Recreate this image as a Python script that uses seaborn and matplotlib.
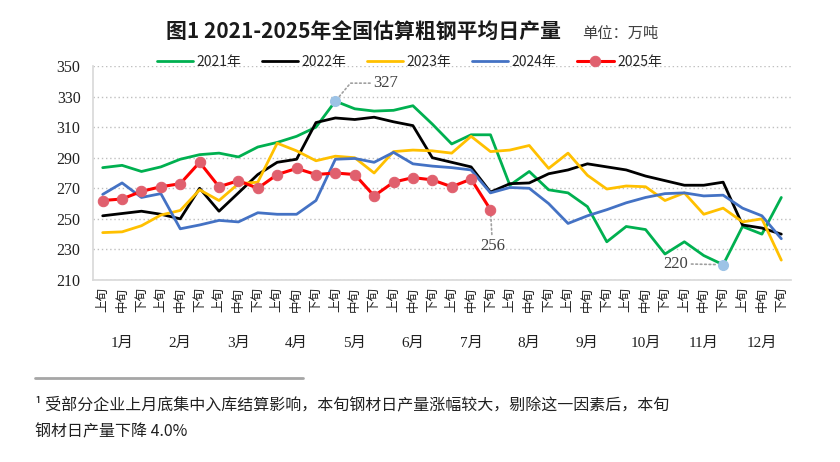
import numpy as np
import matplotlib
matplotlib.use("Agg")
import matplotlib.pyplot as plt
import matplotlib.transforms as mtransforms
from matplotlib.lines import Line2D
import seaborn as sns

# categories
months = ["1月", "2月", "3月", "4月", "5月", "6月", "7月", "8月", "9月", "10月", "11月", "12月"]
xun = ["上旬", "中旬", "下旬"]
periods = [x for m in months for x in xun]

# 万吨/日
y2021 = [283.5, 285, 281, 284, 289, 292, 293, 290.5, 297, 300, 304, 310,
         327, 322, 320.5, 321, 324, 312, 299, 305, 305, 272, 281, 269,
         267, 258, 235, 245, 243, 227, 235, 226, 220, 245, 240, 264]
y2022 = [252, 253.5, 255, 253, 250, 270, 255, 267, 279, 287, 289, 313,
         316, 315, 316.5, 313.5, 311, 290, 287, 284, 267.5, 273, 273.5, 279.5,
         282, 286, 284, 282, 278, 275, 272, 272, 274, 246, 244, 240]
y2023 = [241, 241.5, 245.5, 252.5, 255.5, 269, 262, 273, 274, 299.5, 294.5, 288,
         291, 290, 280, 294, 295, 294.5, 293, 304, 294, 295, 298, 283,
         293, 278.5, 269.5, 271.5, 271, 262, 267, 253, 257, 248, 250, 223]
y2024 = [266, 273.5, 264, 266.5, 243.5, 246, 249, 248, 254, 253, 253, 262,
         289, 289.5, 287, 293.5, 286, 284.5, 283.5, 282, 267, 270.5, 270, 260,
         247, 252, 256, 260.5, 264, 266.5, 267, 265, 265.5, 257, 252, 237]
y2025 = [262, 263, 268, 271, 273, 287, 271, 275, 270, 279, 283, 279,
         280, 279, 265, 274, 277, 275.5, 271, 276, 256]

sns.set_theme(style="white")
plt.rcParams["font.family"] = ["Noto Sans CJK SC", "DejaVu Sans"]
serif = ["Liberation Serif", "Noto Sans CJK SC"]

fig = plt.figure(figsize=(8.4, 4.62), dpi=100)
ax = fig.add_axes([93 / 840, 182 / 462, 698 / 840, 214 / 462])

idx = np.arange(len(periods))
series = [("2021年", y2021, "#00B050"),
          ("2022年", y2022, "#000000"),
          ("2023年", y2023, "#FFC000"),
          ("2024年", y2024, "#4472C4")]
for name, vals, col in series:
    sns.lineplot(x=idx[:len(vals)], y=vals, ax=ax, color=col, linewidth=2,
                 label=name)
sns.lineplot(x=idx[:len(y2025)], y=y2025, ax=ax, color="#FF0000", linewidth=2.2,
             marker="o", markersize=7.5, markerfacecolor="#E0606E",
             markeredgecolor="#E0606E", label="2025年", zorder=4)

# highlighted points
ax.plot(12, y2021[12], "o", color="#9DC3E6", ms=7, zorder=5)
ax.plot(32, y2021[32], "o", color="#9DC3E6", ms=7, zorder=5)

lead = dict(arrowstyle="-", linestyle=":", color="#A0A0A0", lw=1.2, shrinkA=0, shrinkB=4)
ax.annotate(f"{y2021[12]:.0f}", xy=(12, y2021[12]), xytext=(38, 18),
            textcoords="offset pixels", ha="left", va="center", fontsize=12,
            family=serif, color="#404040",
            arrowprops=dict(lead, connectionstyle="angle,angleA=0,angleB=50,rad=0"))
ax.annotate(f"{y2025[-1]:.0f}", xy=(20, y2025[-1]), xytext=(2, -36),
            textcoords="offset pixels", ha="center", va="center", fontsize=12,
            family=serif, color="#404040", arrowprops=lead)
ax.annotate(f"{y2021[32]:.0f}", xy=(32, y2021[32]), xytext=(-35, 1),
            textcoords="offset pixels", ha="right", va="center", fontsize=12,
            family=serif, color="#404040", arrowprops=lead)

# axes styling
ax.set_xlim(-0.5, len(periods) - 0.5)
ax.set_ylim(210, 350)
ax.set_yticks(range(210, 351, 20))
ax.set_xticks(idx)
ax.set_xticklabels(periods, rotation=90, fontsize=9)
ax.set_xticks(np.arange(-0.5, len(periods), 3), minor=True)
ax.tick_params(axis="x", which="major", direction="in", length=3, color="#D9D9D9",
               pad=5, labelcolor="#202020")
ax.tick_params(axis="x", which="minor", direction="out", length=54, color="#D9D9D9",
               width=1)
ax.tick_params(axis="y", length=0, pad=9, labelsize=11.5, labelcolor="#202020")
for lab in ax.get_yticklabels():
    lab.set_family(serif)
ax.yaxis.grid(True, linestyle=(0, (1, 2)), color="#BFBFBF", lw=1)
ax.xaxis.grid(False)
for s in ["top", "right"]:
    ax.spines[s].set_visible(False)
for s in ["left", "bottom"]:
    ax.spines[s].set_color("#D9D9D9")
ax.set_xlabel("")
ax.set_ylabel("")

# month labels under the xun labels
trans = mtransforms.blended_transform_factory(ax.transData, ax.transAxes)
for k, m in enumerate(months):
    ax.text(3 * k + 1, -0.295, m, transform=trans, ha="center", va="center",
            fontsize=11, family=serif, color="#202020")

ax.legend(loc="center", bbox_to_anchor=(0.453, 1.02), ncol=5, frameon=False,
          fontsize=10, handlelength=2.6, columnspacing=1.5, handletextpad=0.25,
          borderpad=0)

# title and footnote
fig.text(363 / 840, 1 - 32 / 462, "图1 2021-2025年全国估算粗钢平均日产量",
         ha="center", va="center", fontsize=15, fontweight="bold", color="#1a1a1a")
fig.text(582 / 840, 1 - 33 / 462, "单位：万吨", ha="left", va="center",
         fontsize=11, color="#404040")
fig.add_artist(Line2D([35 / 840, 303 / 840], [1 - 378 / 462, 1 - 378 / 462],
                      color="#A6A6A6", lw=2))
fig.text(35 / 840, 1 - 405 / 462,
         "¹ 受部分企业上月底集中入库结算影响，本旬钢材日产量涨幅较大，剔除这一因素后，本旬",
         ha="left", va="center", fontsize=11.5, color="#202020")
fig.text(35 / 840, 1 - 432 / 462, "钢材日产量下降 4.0%",
         ha="left", va="center", fontsize=11.5, color="#202020")

fig.savefig("out.png", dpi=100)
